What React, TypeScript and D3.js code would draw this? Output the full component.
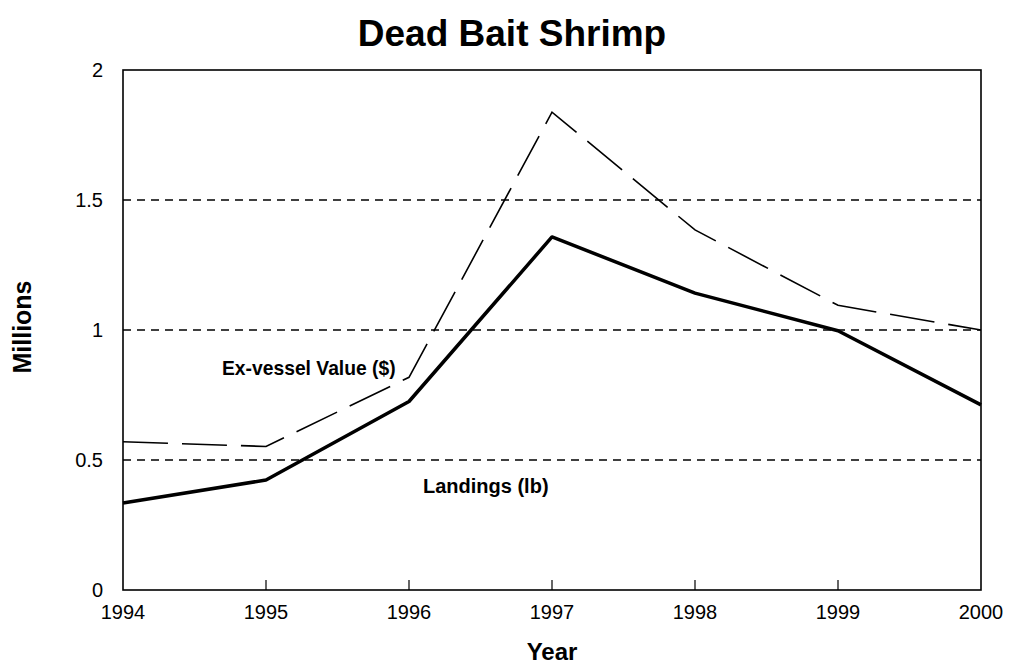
import React from "react";
import * as d3 from "d3";

const years = [1994, 1995, 1996, 1997, 1998, 1999, 2000];
const landings = [0.335, 0.423, 0.725, 1.358, 1.142, 0.997, 0.712];
const exVesselValue = [0.57, 0.552, 0.818, 1.838, 1.385, 1.095, 1.0];
const yTicks = [0, 0.5, 1, 1.5, 2];
const gridValues = [0.5, 1, 1.5];

const W = 1010;
const H = 670;
const M = { left: 123, right: 981, top: 70, bottom: 590 };
const FONT = "'Liberation Sans', Arial, Helvetica, sans-serif";

export default function App() {
  const x = d3.scaleLinear().domain([1994, 2000]).range([M.left, M.right]);
  const y = d3.scaleLinear().domain([0, 2]).range([M.bottom, M.top]);
  const line = d3
    .line<number>()
    .x((_, i) => x(years[i]))
    .y((d) => y(d));

  return (
    <svg
      width={W}
      height={H}
      style={{ position: "absolute", left: 0, top: 0, background: "#fff" }}
      fontFamily={FONT}
    >
      <rect x={0} y={0} width={W} height={H} fill="#fff" />
      <text x={512} y={46} textAnchor="middle" fontSize={37} fontWeight="bold">
        Dead Bait Shrimp
      </text>

      {gridValues.map((v) => (
        <line
          key={v}
          x1={M.left}
          x2={M.right}
          y1={y(v)}
          y2={y(v)}
          stroke="#000"
          strokeWidth={1.6}
          strokeDasharray="8,6"
        />
      ))}

      <rect
        x={M.left}
        y={M.top}
        width={M.right - M.left}
        height={M.bottom - M.top}
        fill="none"
        stroke="#000"
        strokeWidth={1.6}
      />

      {years.slice(1, -1).map((yr) => (
        <line
          key={yr}
          x1={x(yr)}
          x2={x(yr)}
          y1={M.bottom}
          y2={M.bottom - 10}
          stroke="#000"
          strokeWidth={1.2}
        />
      ))}

      {years.map((yr) => (
        <text key={yr} x={x(yr)} y={M.bottom + 29} textAnchor="middle" fontSize={20}>
          {yr}
        </text>
      ))}

      {yTicks.map((v) => (
        <text key={v} x={M.left - 20} y={y(v) + 7} textAnchor="end" fontSize={20}>
          {String(v)}
        </text>
      ))}

      <path
        d={line(exVesselValue) || ""}
        fill="none"
        stroke="#000"
        strokeWidth={1.6}
        strokeDasharray="45,14"
      />
      <path
        d={line(landings) || ""}
        fill="none"
        stroke="#000"
        strokeWidth={3.5}
        strokeLinejoin="round"
      />

      <text x={222} y={375} fontSize={19.3} fontWeight="bold">
        Ex-vessel Value ($)
      </text>
      <text x={423} y={493} fontSize={20} fontWeight="bold">
        Landings (lb)
      </text>

      <text x={(M.left + M.right) / 2} y={660} textAnchor="middle" fontSize={24} fontWeight="bold">
        Year
      </text>
      <text
        transform={`translate(31, ${(M.top + M.bottom) / 2 - 3}) rotate(-90)`}
        textAnchor="middle"
        fontSize={25}
        fontWeight="bold"
      >
        Millions
      </text>
    </svg>
  );
}
